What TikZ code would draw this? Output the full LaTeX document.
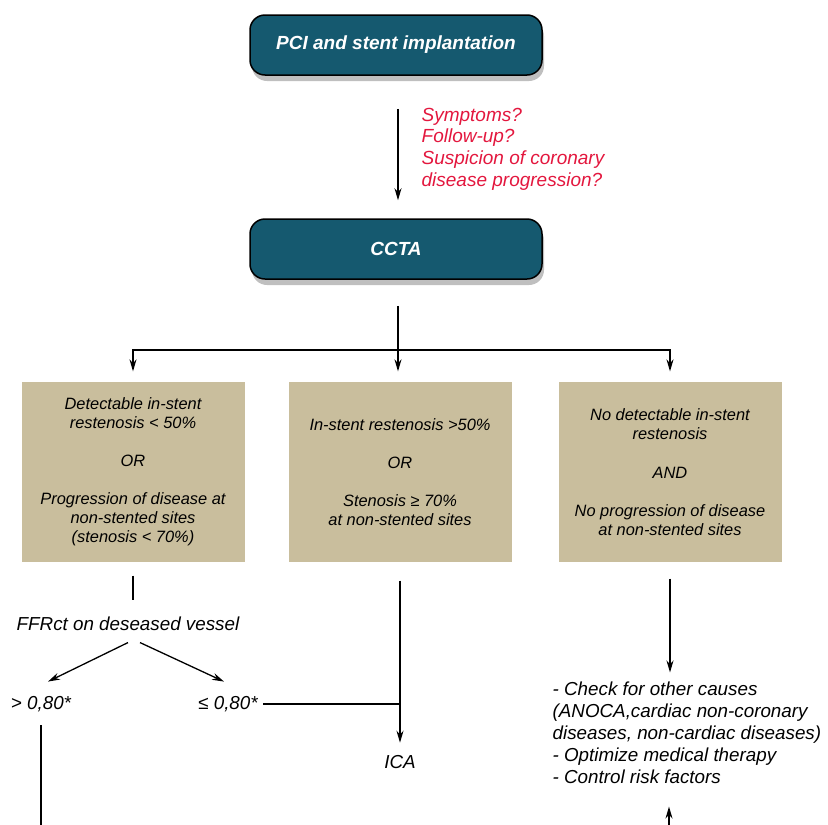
\documentclass[tikz,border=0pt]{standalone}
\usepackage{fontspec}
\setmainfont{Liberation Sans}
\usepackage{tikz}
\usetikzlibrary{arrows.meta,shadows}
\definecolor{stentteal}{HTML}{15596F}
\definecolor{findtan}{HTML}{C9BE9D}
\definecolor{askred}{HTML}{E3173E}
\tikzset{
  tealbox/.style={draw=black, line width=1.5pt, fill=stentteal, rounded corners=15pt,
    minimum width=292pt, minimum height=60pt, text=white,
    font=\fontsize{19}{22}\selectfont\bfseries\itshape,
    drop shadow={shadow xshift=2pt, shadow yshift=-6pt, opacity=0.5}},
  tanbox/.style={fill=findtan, minimum width=223pt, minimum height=180pt, align=center,
    inner sep=0pt, font=\fontsize{16.4}{19}\selectfont\itshape},
  plain/.style={inner sep=0pt, font=\fontsize{18.8}{22}\selectfont\itshape},
  arr/.style={-{Stealth[length=12pt,width=7pt]}},
}

\begin{document}
\begin{tikzpicture}[x=1pt, y=-1pt, line width=1.3pt]
\useasboundingbox (0,0) rectangle (828,825);
%%%%% Top %%%%%
\node[tealbox] (pci) at (396,45) {PCI and stent implantation};
\node[plain, text=askred, align=left, anchor=west, font=\fontsize{19}{21.7}\selectfont\itshape] (why) at (421,149)
  {Symptoms?\\Follow-up?\\Suspicion of coronary\\disease progression?};
\node[tealbox] (ccta) at (396,249) {CCTA};
\coordinate (split) at (398,350);
\draw[arr, shorten <=33pt, shorten >=18pt] (split |- pci.south) -- (split |- ccta.north);

%%%%% Findings %%%%%
\node[tanbox] (lowrest) at (133,472) {Detectable in-stent\\restenosis < 50\%\\[19pt]OR\\[19pt]Progression of disease at\\non-stented sites\\(stenosis < 70\%)};
\node[tanbox] (highrest) at (400,472) {In-stent restenosis >50\%\\[19pt]OR\\[19pt]Stenosis ≥ 70\%\\at non-stented sites};
\node[tanbox] (norest) at (670,472) {No detectable in-stent\\restenosis\\[20pt]AND\\[19pt]No progression of disease\\at non-stented sites};
\draw[shorten <=26pt] (split |- ccta.south) -- (split);
\draw[arr, shorten >=10pt] (split) -| (lowrest.north);
\draw[arr, shorten >=10pt] (split) -- (split |- highrest.north);
\draw[arr, shorten >=10pt] (split) -| (norest.north);

%%%%% FFRct branch %%%%%
\node[plain] (ffr) at (128,624) {FFRct on deseased vessel};
\node[plain] (gt) at (41,704) {> 0,80*};
\node[plain] (le) at (228,704) {≤ 0,80*};
\node[plain] (ica) at (400,762) {ICA};
\coordinate (gtend) at (40,830);
\draw[shorten <=13pt, shorten >=16pt] (lowrest.south) -- (lowrest.south |- ffr.north);
\draw[arr] ([xshift=0pt,yshift=-11pt]ffr.south) -- ([xshift=7pt,yshift=14pt]gt.north);
\draw[arr] ([xshift=12pt,yshift=-11pt]ffr.south) -- ([xshift=-4pt,yshift=14pt]le.north);
\draw[arr, shorten <=18pt, shorten >=12pt] (highrest.south) -- (ica.north);
\draw[shorten <=5pt] (le.east) -- (le.east -| ica);
\draw[shorten <=13pt] (gt.south) -- (gt.south |- gtend);

%%%%% No restenosis branch %%%%%
\node[plain, align=left, anchor=west] (advice) at (552,733)
  {- Check for other causes\\(ANOCA,cardiac non-coronary\\diseases, non-cardiac diseases)\\- Optimize medical therapy\\- Control risk factors};
\coordinate (riskin) at (669,826);
\draw[arr, shorten <=16pt, shorten >=9pt] (norest.south) -- (norest.south |- advice.north);
\draw[arr, shorten >=22pt] (riskin) -- (riskin |- advice.south);
\end{tikzpicture}
\end{document}
